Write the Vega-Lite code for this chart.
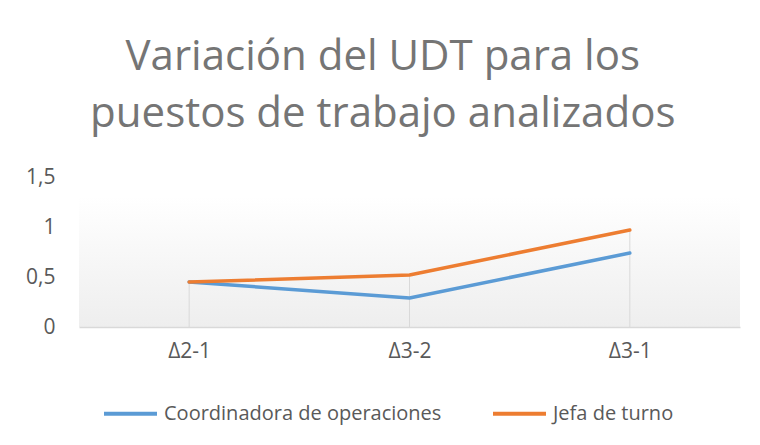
{
  "$schema": "https://vega.github.io/schema/vega-lite/v6.json",
  "autosize": {"type": "none"},
  "width": 661,
  "height": 150,
  "padding": {"left": 79, "top": 177, "right": 20, "bottom": 118},
  "background": "white",
  "title": {
    "text": ["Variación del UDT para los", "puestos de trabajo analizados"],
    "fontSize": 42,
    "lineHeight": 57,
    "font": "Open Sans",
    "fontWeight": "normal",
    "color": "#757575",
    "anchor": "middle",
    "frame": "bounds",
    "offset": 30
  },
  "config": {
    "font": "Open Sans",
    "view": {
      "stroke": null,
      "fill": {
        "gradient": "linear",
        "x1": 0, "y1": 0, "x2": 0, "y2": 1,
        "stops": [
          {"offset": 0, "color": "#ffffff"},
          {"offset": 0.13, "color": "#ffffff"},
          {"offset": 1, "color": "#eeeeee"}
        ]
      }
    }
  },
  "data": {
    "values": [
      {"cat": "Δ2-1", "serie": "Coordinadora de operaciones", "value": 0.45},
      {"cat": "Δ3-2", "serie": "Coordinadora de operaciones", "value": 0.29},
      {"cat": "Δ3-1", "serie": "Coordinadora de operaciones", "value": 0.74},
      {"cat": "Δ2-1", "serie": "Jefa de turno", "value": 0.45},
      {"cat": "Δ3-2", "serie": "Jefa de turno", "value": 0.52},
      {"cat": "Δ3-1", "serie": "Jefa de turno", "value": 0.97}
    ]
  },
  "encoding": {
    "x": {
      "field": "cat",
      "type": "nominal",
      "sort": ["Δ2-1", "Δ3-2", "Δ3-1"],
      "scale": {"type": "point", "padding": 0.5},
      "axis": {
        "title": null,
        "labelAngle": 0,
        "labelFontSize": 21,
        "labelColor": "#595959",
        "labelPadding": 24,
        "labelBaseline": "middle",
        "ticks": false,
        "domainColor": "#d9d9d9",
        "domainWidth": 1.5,
        "grid": false
      }
    }
  },
  "layer": [
    {
      "mark": {"type": "rule", "color": "#d9d9d9", "strokeWidth": 1},
      "encoding": {
        "y": {"aggregate": "max", "field": "value", "type": "quantitative",
              "scale": {"domain": [0, 1.5]}},
        "y2": {"datum": 0}
      }
    },
    {
      "mark": {"type": "line", "strokeWidth": 3.5, "strokeCap": "round", "strokeJoin": "round"},
      "encoding": {
        "y": {
          "field": "value",
          "type": "quantitative",
          "scale": {"domain": [0, 1.5]},
          "axis": {
            "title": null,
            "values": [0, 0.5, 1, 1.5],
            "labelExpr": "replace(format(datum.value, ''), '.', ',')",
            "labelFontSize": 21,
            "labelColor": "#595959",
            "labelPadding": 24,
            "ticks": false,
            "domain": false,
            "grid": false
          }
        },
        "color": {
          "field": "serie",
          "type": "nominal",
          "scale": {
            "domain": ["Coordinadora de operaciones", "Jefa de turno"],
            "range": ["#5B9BD5", "#ED7D31"]
          },
          "legend": {
            "title": null,
            "orient": "none",
            "legendX": 23,
            "legendY": 208,
            "direction": "horizontal",
            "symbolType": "stroke",
            "symbolSize": 2809,
            "symbolStrokeWidth": 4,
            "labelFontSize": 20,
            "labelColor": "#595959",
            "labelOffset": 5,
            "labelLimit": 400,
            "columnPadding": 43
          }
        }
      }
    }
  ]
}
